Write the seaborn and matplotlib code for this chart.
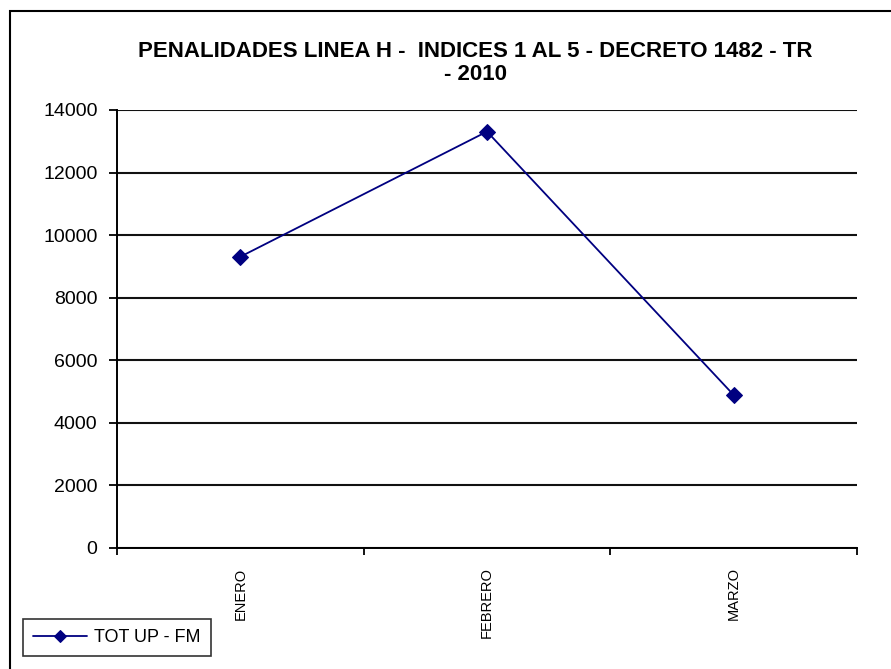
import numpy as np
import pandas as pd
import seaborn as sns
import matplotlib.pyplot as plt
from matplotlib.patches import Rectangle

sns.set_theme(style="white")
plt.rcParams['font.family'] = ['Liberation Sans', 'DejaVu Sans']
plt.rcParams['text.color'] = 'black'
plt.rcParams['xtick.color'] = 'black'
plt.rcParams['ytick.color'] = 'black'

# datos
meses = ["ENERO", "FEBRERO", "MARZO"]
tot_up_fm = [9310, 13310, 4890]
yticks = [0, 2000, 4000, 6000, 8000, 10000, 12000, 14000]

df = pd.DataFrame({"mes": meses, "valor": tot_up_fm})

fig = plt.figure(figsize=(8.91, 6.69), dpi=100)
ax = fig.add_axes([117/891, 1-548/669, (857-117)/891, (548-110)/669])

sns.lineplot(data=df, x="mes", y="valor", ax=ax, color="#000080", lw=1.3,
             marker="D", markersize=8, markeredgecolor="#000080",
             label="TOT UP - FM", legend=False)

ax.set_xlim(-0.5, len(meses) - 0.5)
ax.set_ylim(0, 14000)
ax.set_yticks(yticks)
ax.set_yticklabels([str(v) for v in yticks], fontsize=14)
ax.set_xticks(range(len(meses)))
ax.set_xticklabels(meses, rotation=90, fontsize=10.5, va="top")
ax.set_xticks(np.arange(-0.5, len(meses)), minor=True)
ax.tick_params(axis="x", which="major", length=0, pad=14)
ax.tick_params(axis="x", which="minor", length=5, width=1.3, color="black", direction="out", bottom=True)
ax.tick_params(axis="y", length=6, width=1.3, color="black", direction="out", left=True, pad=8)
ax.set_xlabel("")
ax.set_ylabel("")

ax.yaxis.grid(True, color="#111111", lw=1.5)
ax.set_axisbelow(True)
for s in ["top", "right"]:
    ax.spines[s].set_visible(False)
for s in ["left", "bottom"]:
    ax.spines[s].set_color("black")
    ax.spines[s].set_linewidth(1.4)

fig.text(475/891, 1-63/669,
         "PENALIDADES LINEA H -  INDICES 1 AL 5 - DECRETO 1482 - TR\n- 2010",
         ha="center", va="center", fontsize=16, fontweight="bold", linespacing=1.07,
         color="black")

h, l = ax.get_legend_handles_labels()
leg = fig.legend(h, l, loc="lower left", bbox_to_anchor=(23/891, 1-656/669),
                 borderaxespad=0, frameon=True, fancybox=False, fontsize=13,
                 handlelength=3.0, borderpad=0.55, handletextpad=0.4, markerscale=0.8)
leg.get_frame().set_edgecolor("black")
leg.get_frame().set_linewidth(1.2)

# marco exterior del grafico
fig.patches.append(Rectangle((9.5/891, -0.1), 1.2, 1.1 - 11/669, transform=fig.transFigure,
                             fill=False, edgecolor="black", lw=1.5, clip_on=False))

fig.savefig("out.png", dpi=100)
